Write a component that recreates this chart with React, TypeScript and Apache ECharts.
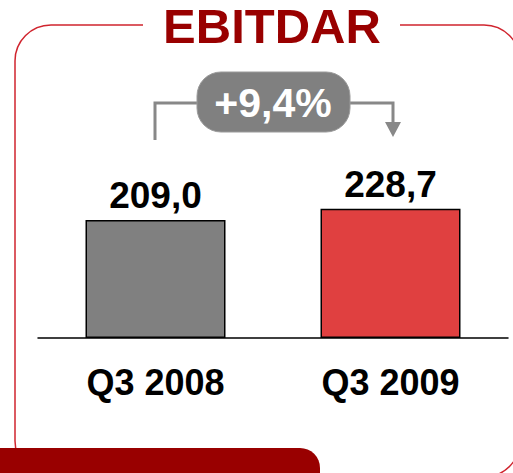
import React, { useEffect, useRef } from "react";
import * as echarts from "echarts";

const categories = ["Q3 2008", "Q3 2009"];
const values = [209.0, 228.7];
const valueLabels = ["209,0", "228,7"];
const barColors = ["#808080", "#E04040"];
const growthLabel = "+9,4%";
const titleText = "EBITDAR";

const FONT = "'Liberation Sans', Arial, Helvetica, sans-serif";

export default function App() {
  const ref = useRef<HTMLDivElement>(null);
  useEffect(() => {
    if (!ref.current) return;
    const chart = echarts.init(ref.current, undefined, { renderer: "svg" });
    const gray = "#888888";
    chart.setOption({
      animation: false,
      backgroundColor: "#ffffff",
      grid: { left: 38, right: 5, top: 112, bottom: 135, containLabel: false },
      xAxis: {
        type: "category",
        data: categories,
        axisLine: { show: true, lineStyle: { color: "#000", width: 1.5 } },
        axisTick: { show: false },
        axisLabel: {
          color: "#000",
          fontFamily: FONT,
          fontWeight: "bold",
          fontSize: 36,
          margin: 26,
        },
      },
      yAxis: {
        type: "value",
        min: 0,
        max: 400,
        show: false,
        splitLine: { show: false },
      },
      series: [
        {
          type: "bar",
          barWidth: 140,
          data: values.map((v, i) => ({
            value: v,
            itemStyle: { color: barColors[i], borderColor: "#000", borderWidth: 1.5 },
            label: {
              show: true,
              position: "top",
              distance: 6,
              formatter: valueLabels[i],
              color: "#000",
              fontFamily: FONT,
              fontWeight: "bold",
              fontSize: 37,
            },
          })),
        },
      ],
      graphic: [
        {
          type: "rect",
          z: -10,
          shape: { x: 15, y: 25, width: 505, height: 452, r: 36 },
          style: { fill: "none", stroke: "#D0242E", lineWidth: 1.5 },
        },
        {
          type: "rect",
          z: -5,
          shape: { x: 143, y: 8, width: 257, height: 36 },
          style: { fill: "#ffffff" },
        },
        {
          type: "text",
          z: 10,
          x: 272,
          y: 26,
          style: {
            text: titleText,
            fill: "#990000",
            font: `bold 49px ${FONT}`,
            align: "center",
            verticalAlign: "middle",
          },
        },
        {
          type: "rect",
          z: 10,
          shape: { x: -20, y: 448, width: 340, height: 60, r: [0, 20, 0, 0] },
          style: { fill: "#990000" },
        },
        {
          type: "polyline",
          z: 10,
          shape: { points: [[155, 140], [155, 103], [198, 103]] },
          style: { stroke: gray, lineWidth: 3, fill: "none" },
        },
        {
          type: "polyline",
          z: 10,
          shape: { points: [[349, 103], [393, 103], [393, 124]] },
          style: { stroke: gray, lineWidth: 3, fill: "none" },
        },
        {
          type: "polygon",
          z: 10,
          shape: { points: [[385, 122], [401, 122], [393, 137]] },
          style: { fill: gray },
        },
        {
          type: "rect",
          z: 11,
          shape: { x: 197, y: 72, width: 153, height: 60, r: 24 },
          style: { fill: "#808080", stroke: "#9a9a9a", lineWidth: 1 },
        },
        {
          type: "text",
          z: 12,
          x: 273,
          y: 103,
          style: {
            text: growthLabel,
            fill: "#ffffff",
            font: `bold 41px ${FONT}`,
            align: "center",
            verticalAlign: "middle",
          },
        },
      ],
    });
    return () => chart.dispose();
  }, []);
  return (
    <div
      ref={ref}
      style={{ position: "fixed", left: 0, top: 0, width: 513, height: 473 }}
    />
  );
}
